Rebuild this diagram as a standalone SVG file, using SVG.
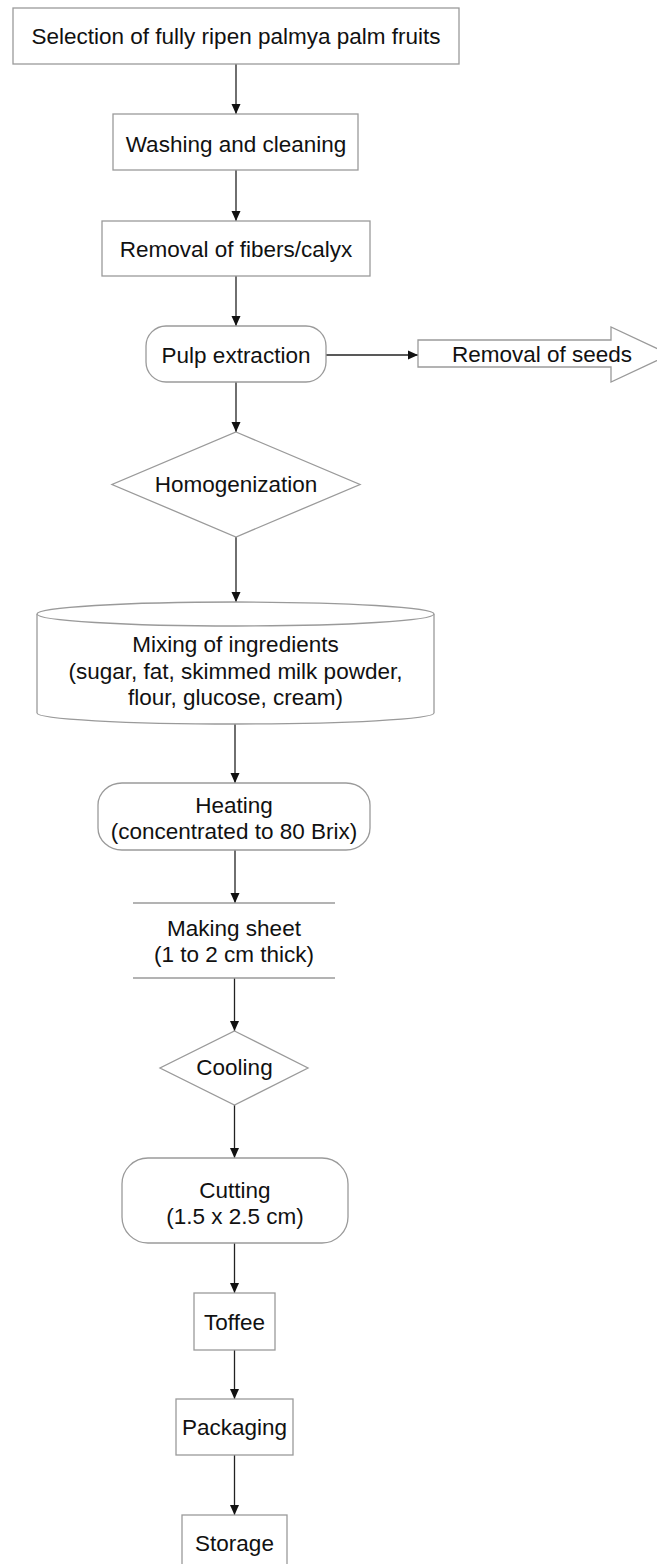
<svg xmlns="http://www.w3.org/2000/svg" width="657" height="1564" viewBox="0 0 657 1564">
<style>
.s{fill:#fff;stroke:#9a9a9a;stroke-width:1.3}
.t{font-family:"Liberation Sans",Arial,sans-serif;font-size:22.5px;fill:#111;text-anchor:middle}
.c{stroke:#222;stroke-width:1.3;fill:none}
</style>
<defs>
<marker id="ah" markerUnits="userSpaceOnUse" markerWidth="10" markerHeight="12" viewBox="0 0 10 12" refX="10" refY="6" orient="auto">
<path d="M0,1.5 L10,6 L0,10.5 Z" fill="#111"/>
</marker>
</defs>
<rect width="657" height="1564" fill="#fff"/>
<g id="connectors">
<line class="c" x1="236" y1="64" x2="236" y2="114" marker-end="url(#ah)"/>
<line class="c" x1="236" y1="170" x2="236" y2="221" marker-end="url(#ah)"/>
<line class="c" x1="236" y1="276" x2="236" y2="326" marker-end="url(#ah)"/>
<line class="c" x1="236" y1="382" x2="236" y2="432" marker-end="url(#ah)"/>
<line class="c" x1="326" y1="355" x2="418" y2="355" marker-end="url(#ah)"/>
<line class="c" x1="236" y1="537" x2="236" y2="602" marker-end="url(#ah)"/>
<line class="c" x1="235" y1="724" x2="235" y2="783" marker-end="url(#ah)"/>
<line class="c" x1="235" y1="850" x2="235" y2="903" marker-end="url(#ah)"/>
<line class="c" x1="234.5" y1="978" x2="234.5" y2="1031" marker-end="url(#ah)"/>
<line class="c" x1="234.5" y1="1105" x2="234.5" y2="1158" marker-end="url(#ah)"/>
<line class="c" x1="234.5" y1="1243" x2="234.5" y2="1293" marker-end="url(#ah)"/>
<line class="c" x1="234.5" y1="1350" x2="234.5" y2="1399" marker-end="url(#ah)"/>
<line class="c" x1="234.5" y1="1455" x2="234.5" y2="1515" marker-end="url(#ah)"/>
</g>
<g id="n1"><rect class="s" x="13" y="8" width="446" height="56"/><text class="t" x="236" y="44">Selection of fully ripen palmya palm fruits</text></g>
<g id="n2"><rect class="s" x="113" y="114" width="245" height="56"/><text class="t" x="236" y="152">Washing and cleaning</text></g>
<g id="n3"><rect class="s" x="102" y="221" width="268" height="55"/><text class="t" x="236" y="257">Removal of fibers/calyx</text></g>
<g id="n4"><rect class="s" x="146" y="326" width="180" height="56" rx="20" ry="20"/><text class="t" x="236" y="363">Pulp extraction</text></g>
<g id="n5"><polygon class="s" points="418,340 611,340 611,327 670,354.5 611,382 611,367 418,367"/><text class="t" x="542" y="362">Removal of seeds</text></g>
<g id="n6"><polygon class="s" points="236,432 360,484.5 236,537 112,484.5"/><text class="t" x="236" y="492">Homogenization</text></g>
<g id="n7"><path class="s" d="M37,614 L37,713 A198.5,11 0 0 0 434,713 L434,614"/><ellipse class="s" cx="235.5" cy="614" rx="198.5" ry="12"/>
<text class="t" x="235.5" y="652">Mixing of ingredients</text>
<text class="t" x="235.5" y="679">(sugar, fat, skimmed milk powder,</text>
<text class="t" x="235.5" y="705">flour, glucose, cream)</text></g>
<g id="n8"><rect class="s" x="98" y="783" width="272" height="67" rx="24" ry="22"/>
<text class="t" x="234" y="813">Heating</text><text class="t" x="234" y="839">(concentrated to 80 Brix)</text></g>
<g id="n9"><line class="s" x1="133" y1="903" x2="335" y2="903"/><line class="s" x1="133" y1="978" x2="335" y2="978"/>
<text class="t" x="234" y="936">Making sheet</text><text class="t" x="234" y="962">(1 to 2 cm thick)</text></g>
<g id="n10"><polygon class="s" points="234.5,1031 308,1068 234.5,1105 160,1068"/><text class="t" x="234.5" y="1075">Cooling</text></g>
<g id="n11"><rect class="s" x="122" y="1158" width="226" height="85" rx="26" ry="26"/>
<text class="t" x="235" y="1198">Cutting</text><text class="t" x="235" y="1224">(1.5 x 2.5 cm)</text></g>
<g id="n12"><rect class="s" x="194" y="1293" width="81" height="57"/><text class="t" x="234.5" y="1330">Toffee</text></g>
<g id="n13"><rect class="s" x="176" y="1399" width="117" height="56"/><text class="t" x="234.5" y="1435">Packaging</text></g>
<g id="n14"><rect class="s" x="182" y="1515" width="105" height="70"/><text class="t" x="234.5" y="1551">Storage</text></g>
</svg>
